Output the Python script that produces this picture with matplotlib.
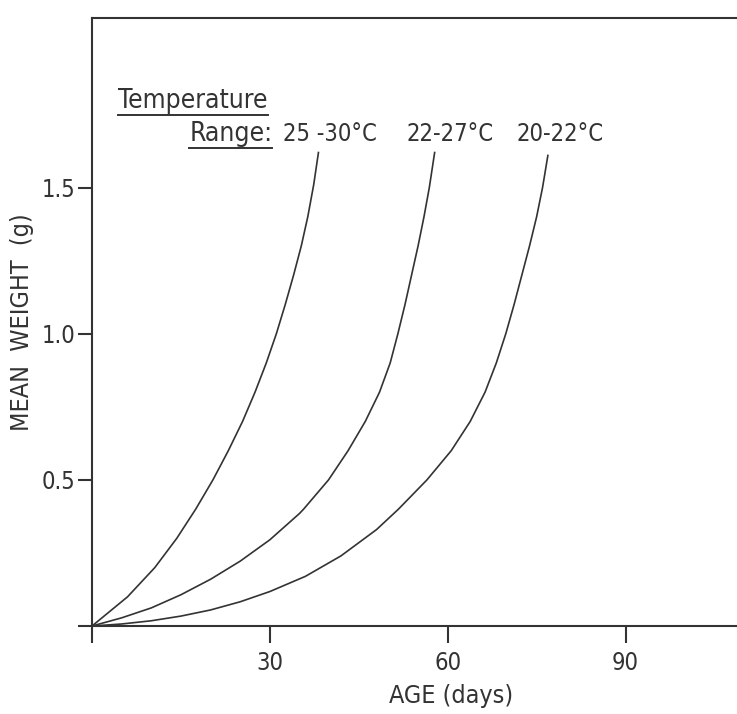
import matplotlib
matplotlib.use("Agg")
import matplotlib.pyplot as plt
from matplotlib.lines import Line2D

plt.rcParams['font.family'] = ['DejaVu Sans']
plt.rcParams['font.stretch'] = 'condensed'

# growth curves: age (days) and mean weight (g)
age_25_30 = [0, 3.0, 6.0, 10.6, 14.3, 17.5, 20.4, 23.0, 25.4, 27.5, 29.4, 31.1, 32.6, 34.0, 35.3, 36.4, 37.4, 38.2]
wt_25_30 = [0, 0.05, 0.1, 0.2, 0.3, 0.4, 0.5, 0.6, 0.7, 0.8, 0.9, 1.0, 1.1, 1.2, 1.3, 1.4, 1.51, 1.62]

age_22_27 = [0, 5, 10, 15, 20, 25, 30, 35, 35.7, 39.9, 43.2, 46.1, 48.5, 50.3, 51.6,
             52.8, 53.9, 55.0, 56.0, 56.9, 57.8]
wt_22_27 = [0, 0.028, 0.062, 0.107, 0.16, 0.222, 0.295, 0.385, 0.4, 0.5, 0.6, 0.7, 0.8, 0.9, 1.0,
            1.1, 1.2, 1.3, 1.4, 1.5, 1.62]

age_20_22 = [0, 5, 10, 15, 20, 25, 30, 36, 42, 48, 51.7, 56.5, 60.6, 63.8, 66.3, 68.2,
             69.8, 71.2, 72.5, 73.8, 75.0, 76.0, 76.9]
wt_20_22 = [0, 0.007, 0.018, 0.034, 0.055, 0.083, 0.118, 0.17, 0.24, 0.33, 0.4, 0.5, 0.6, 0.7, 0.8, 0.9,
            1.0, 1.1, 1.2, 1.3, 1.4, 1.5, 1.61]

range_labels = ['25 -30°C', '22-27°C', '20-22°C']
x_ticks = [0, 30, 60, 90]
x_tick_labels = ['', '30', '60', '90']
y_ticks = [0, 0.5, 1.0, 1.5]
y_tick_labels = ['', '0.5', '1.0', '1.5']

ink = '#333333'

fig = plt.figure(figsize=(7.37, 7.14), dpi=100)
ax = fig.add_axes([0.1248, 0.1232, 0.8752, 0.8515])

for xs, ys in [(age_25_30, wt_25_30), (age_22_27, wt_22_27), (age_20_22, wt_20_22)]:
    ax.plot(xs, ys, color=ink, lw=1.2, solid_joinstyle='round')

ax.set_xlim(0, 108.8)
ax.set_ylim(0, 2.08)
ax.spines['right'].set_visible(False)
for s in ['left', 'bottom', 'top']:
    ax.spines[s].set_color(ink)
    ax.spines[s].set_linewidth(1.5)

ax.set_xticks(x_ticks)
ax.set_xticklabels(x_tick_labels)
ax.set_yticks(y_ticks)
ax.set_yticklabels(y_tick_labels)
ax.tick_params(axis='x', direction='out', length=12, width=1.5, color=ink,
               labelsize=17, labelcolor=ink, pad=6)
ax.tick_params(axis='y', direction='out', length=10, width=1.5, color=ink,
               labelsize=17, labelcolor=ink, pad=2)

ax.set_xlabel('AGE (days)', fontsize=18, color=ink)
ax.xaxis.set_label_coords(0.557, -0.095)
ax.set_ylabel('MEAN  WEIGHT  (g)', fontsize=18, color=ink)
ax.yaxis.set_label_coords(-0.09, 0.5)

# header text, underlined like the hand lettering
t1 = ax.text(4.4, 1.773, 'Temperature', fontsize=19, color=ink, va='baseline')
t2 = ax.text(16.4, 1.66, 'Range:', fontsize=19, color=ink, va='baseline')
label_x = [32.2, 53.1, 71.6]
for x, lab in zip(label_x, range_labels):
    ax.text(x, 1.66, lab, fontsize=17, color=ink, va='baseline')

fig.canvas.draw()
r = fig.canvas.get_renderer()
for t in (t1, t2):
    bb = t.get_window_extent(r).transformed(fig.transFigure.inverted())
    yline = bb.y0 - 0.002
    fig.add_artist(Line2D([bb.x0, bb.x1], [yline, yline], color=ink, lw=1.4,
                          transform=fig.transFigure))

fig.savefig('out.png', dpi=100)
